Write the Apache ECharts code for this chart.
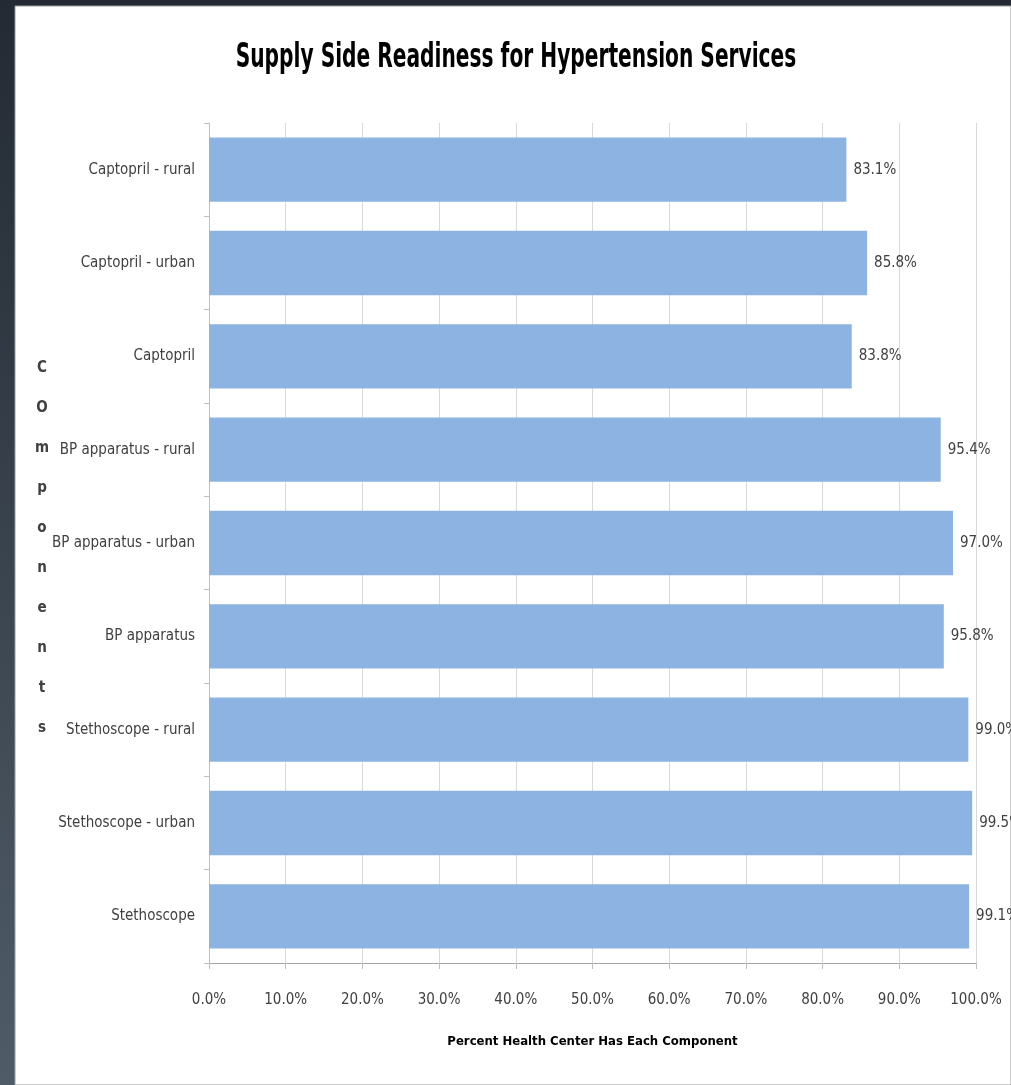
<!DOCTYPE html>
<html>
<head>
<meta charset="utf-8">
<script src="https://cdn.jsdelivr.net/npm/echarts@6/dist/echarts.min.js"></script>
<style>
  html, body { margin: 0; padding: 0; background: #252c35; }
  #chart { width: 1011px; height: 1085px; }
</style>
</head>
<body>
<div id="chart"></div>
<script>
// Health-center components, listed top to bottom
const categories = [
  'Captopril - rural',
  'Captopril - urban',
  'Captopril',
  'BP apparatus - rural',
  'BP apparatus - urban',
  'BP apparatus',
  'Stethoscope - rural',
  'Stethoscope - urban',
  'Stethoscope'
];
// Percent of health centers having each component
const percentValues = [83.1, 85.8, 83.8, 95.4, 97.0, 95.8, 99.0, 99.5, 99.1];
// Value-axis ticks (percent)
const tickMin = 0, tickMax = 100, tickStep = 10;

const narrow = '"Liberation Sans Narrow", "DejaVu Sans Condensed", "Liberation Sans", sans-serif';
const txt = '#404040';

const chart = echarts.init(document.getElementById('chart'), null, { renderer: 'canvas' });
chart.setOption({
  backgroundColor: new echarts.graphic.LinearGradient(0, 0, 0, 1, [
    { offset: 0, color: '#232a33' },
    { offset: 1, color: '#4f5c68' }
  ]),
  animation: false,
  graphic: [
    {
      type: 'rect',
      shape: { x: 15, y: 6, width: 1011 - 15, height: 1085 - 6 },
      style: { fill: '#ffffff', stroke: '#9a9a9a', lineWidth: 1 },
      z: -10
    },
    {
      // chart title, set in a condensed face
      type: 'text',
      x: 516,
      y: 58,
      scaleX: 0.66,
      style: {
        text: 'Supply Side Readiness for Hypertension Services',
        font: 'bold 34px ' + narrow,
        fill: '#000000',
        align: 'center',
        verticalAlign: 'middle'
      }
    },
    {
      // vertical category-axis caption, one letter per line
      type: 'text',
      x: 42,
      y: 348,
      style: {
        text: 'C\nO\nm\np\no\nn\ne\nn\nt\ns',
        font: 'bold 15px ' + narrow,
        fill: txt,
        lineHeight: 40,
        align: 'center'
      }
    }
  ],
  grid: { left: 209, right: 35, top: 123, bottom: 122, containLabel: false },
  xAxis: {
    type: 'value',
    min: tickMin,
    max: tickMax,
    interval: tickStep,
    name: 'Percent Health Center Has Each Component',
    nameLocation: 'middle',
    nameGap: 72,
    nameTextStyle: { fontFamily: narrow, fontWeight: 'bold', fontSize: 13, color: '#000000' },
    axisLine: { show: true, lineStyle: { color: '#a6a6a6', width: 1 } },
    axisTick: { show: true, length: 6, lineStyle: { color: '#bfbfbf' } },
    axisLabel: {
      margin: 30,
      fontFamily: narrow,
      fontSize: 15,
      color: txt,
      formatter: v => v.toFixed(1) + '%'
    },
    splitLine: { show: true, lineStyle: { color: '#d9d9d9', width: 1 } }
  },
  yAxis: {
    type: 'category',
    data: categories,
    inverse: true,
    axisLine: { show: true, lineStyle: { color: '#bfbfbf', width: 1 } },
    axisTick: { show: true, alignWithLabel: false, length: 5, lineStyle: { color: '#bfbfbf' } },
    axisLabel: { margin: 14, fontFamily: narrow, fontSize: 15, color: txt }
  },
  series: [{
    type: 'bar',
    data: percentValues,
    barCategoryGap: '31%',
    itemStyle: { color: '#8db3e2' },
    label: {
      show: true,
      position: 'right',
      distance: 7,
      fontFamily: narrow,
      fontSize: 15,
      color: txt,
      formatter: p => p.value.toFixed(1) + '%'
    }
  }]
});
</script>
</body>
</html>
